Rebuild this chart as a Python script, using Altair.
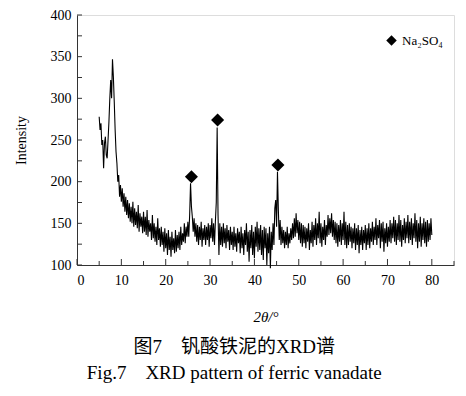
import altair as alt
import numpy as np
import pandas as pd

# 2θ sampling grid (instrument step 0.2°) and intensities
two_theta = np.round(np.arange(5.0, 80.0001, 0.2), 1)
intensity = [
    278, 262, 270, 244, 250, 216, 246, 254, 232, 228,
    250, 272, 300, 322, 300, 347, 326, 296, 262, 236,
    222, 200, 208, 182, 196, 176, 192, 170, 186, 164,
    182, 160, 178, 156, 174, 152, 170, 150, 176, 146,
    168, 148, 164, 144, 172, 140, 162, 146, 158, 138,
    164, 140, 158, 136, 166, 134, 154, 140, 150, 130,
    160, 132, 150, 128, 146, 124, 156, 130, 144, 122,
    146, 124, 140, 116, 144, 120, 138, 112, 142, 118,
    134, 110, 140, 118, 132, 114, 142, 116, 136, 120,
    140, 118, 146, 124, 138, 128, 150, 126, 146, 134,
    152, 134, 160, 198, 170, 158, 140, 156, 134, 150,
    128, 148, 124, 146, 130, 152, 122, 144, 130, 148,
    124, 146, 130, 150, 122, 148, 132, 156, 128, 150,
    124, 152, 175, 265, 160, 112, 150, 124, 146, 122,
    150, 126, 144, 120, 148, 128, 142, 118, 146, 124,
    140, 118, 146, 122, 138, 116, 144, 126, 140, 114,
    146, 120, 138, 112, 142, 124, 150, 116, 140, 104,
    142, 120, 148, 112, 140, 108, 146, 122, 152, 116,
    144, 118, 148, 112, 142, 106, 146, 120, 144, 100,
    138, 114, 146, 96, 140, 118, 150, 124, 168, 178,
    146, 212, 166, 130, 154, 124, 146, 126, 142, 120,
    140, 124, 146, 120, 138, 126, 144, 130, 150, 132,
    156, 134, 162, 138, 154, 130, 152, 126, 150, 122,
    148, 126, 146, 120, 144, 128, 150, 118, 142, 126,
    152, 122, 148, 130, 156, 124, 150, 132, 164, 126,
    150, 122, 146, 130, 154, 124, 148, 134, 160, 136,
    156, 138, 162, 134, 154, 130, 152, 126, 150, 122,
    148, 128, 154, 124, 150, 130, 164, 124, 152, 120,
    148, 124, 150, 128, 146, 120, 144, 126, 150, 118,
    144, 124, 148, 114, 142, 124, 146, 118, 142, 126,
    148, 118, 144, 124, 150, 120, 144, 128, 152, 124,
    146, 130, 156, 124, 148, 132, 154, 120, 150, 128,
    152, 116, 144, 126, 150, 122, 146, 128, 154, 126,
    150, 132, 158, 128, 154, 124, 150, 130, 160, 128,
    154, 122, 148, 130, 156, 126, 152, 132, 160, 126,
    152, 130, 156, 124, 150, 132, 162, 128, 154, 120,
    150, 128, 158, 122, 150, 130, 156, 126, 152, 122,
    154, 128, 150, 130, 156, 136,
]
assert len(two_theta) == len(intensity)

# Na2SO4 peak markers
peak_x = [25.8, 31.7, 45.3]
peak_y = [206, 274, 220]
phase = ["Na₂SO₄", "Na₂SO₄", "Na₂SO₄"]

# axis ticks
x_major = [0, 10, 20, 30, 40, 50, 60, 70, 80]
x_minor = [5, 15, 25, 35, 45, 55, 65, 75, 85]
y_ticks = [100, 125, 150, 175, 200, 225, 250, 275, 300, 325, 350, 375, 400]

FONT = "Liberation Serif, Times New Roman, Noto Sans CJK SC"
W, H = 377, 250

xs = alt.Scale(domain=[0, 85], nice=False, zero=False)
ys = alt.Scale(domain=[100, 400], nice=False, zero=False)

spec = pd.DataFrame({"t": two_theta, "i": intensity})
peaks = pd.DataFrame({"t": peak_x, "i": peak_y, "phase": phase})

x_axis = alt.Axis(
    values=x_major, format="d", ticks=False, grid=False, labelFontSize=14,
    labelFont=FONT, labelPadding=8, domainColor="#333", labelColor="black",
    title="2θ/°", titleFont=FONT, titleFontSize=15, titleFontWeight="normal",
    titleFontStyle="italic", titlePadding=22, titleColor="black",
)
y_axis = alt.Axis(
    values=[100, 150, 200, 250, 300, 350, 400], format="d", ticks=False,
    grid=False, labelFontSize=14, labelFont=FONT, labelPadding=6,
    domainColor="#333", labelColor="black", title="Intensity", titleFont=FONT,
    titleFontSize=14, titleFontWeight="normal", titlePadding=22,
    titleColor="black",
)

line = alt.Chart(spec).mark_line(color="black", strokeWidth=1.1).encode(
    x=alt.X("t:Q", scale=xs, axis=x_axis),
    y=alt.Y("i:Q", scale=ys, axis=y_axis),
)

markers = alt.Chart(peaks).mark_point(
    shape="diamond", filled=True, color="black", size=170, opacity=1
).encode(
    x=alt.X("t:Q", scale=xs),
    y=alt.Y("i:Q", scale=ys),
    shape=alt.Shape(
        "phase:N",
        scale=alt.Scale(range=["diamond"]),
        legend=alt.Legend(
            title=None, orient="none", legendX=308, legendY=19,
            labelFont=FONT, labelFontSize=13, labelColor="black",
            symbolFillColor="black", symbolStrokeColor="black",
            symbolSize=110, padding=0,
        ),
    ),
)

xmaj = alt.Chart(pd.DataFrame({"t": x_major})).mark_rule(
    color="#333", strokeWidth=1
).encode(x=alt.X("t:Q", scale=xs), y=alt.value(H), y2=alt.value(H - 6))
xmin = alt.Chart(pd.DataFrame({"t": x_minor})).mark_rule(
    color="#333", strokeWidth=1
).encode(x=alt.X("t:Q", scale=xs), y=alt.value(H), y2=alt.value(H - 4))
ytk = alt.Chart(pd.DataFrame({"i": y_ticks})).mark_rule(
    color="#333", strokeWidth=1
).encode(y=alt.Y("i:Q", scale=ys), x=alt.value(0), x2=alt.value(5))

chart = alt.layer(line, markers, xmaj, xmin, ytk).properties(
    width=W,
    height=H,
    autosize=alt.AutoSizeParams(type="none"),
    padding={"left": 69, "right": 4, "top": 7, "bottom": 123},
    title=alt.TitleParams(
        text="图7　钒酸铁泥的XRD谱",
        subtitle="Fig.7　XRD pattern of ferric vanadate",
        orient="bottom", anchor="middle", frame="bounds",
        font=FONT, fontSize=19, fontWeight="normal", color="black",
        subtitleFont=FONT, subtitleFontSize=19, subtitleColor="black",
        subtitlePadding=7, offset=14,
    ),
).configure_view(stroke="#333", strokeWidth=1).configure(background="white")

chart.save("out.html", embed_options={"renderer": "svg", "actions": False})
